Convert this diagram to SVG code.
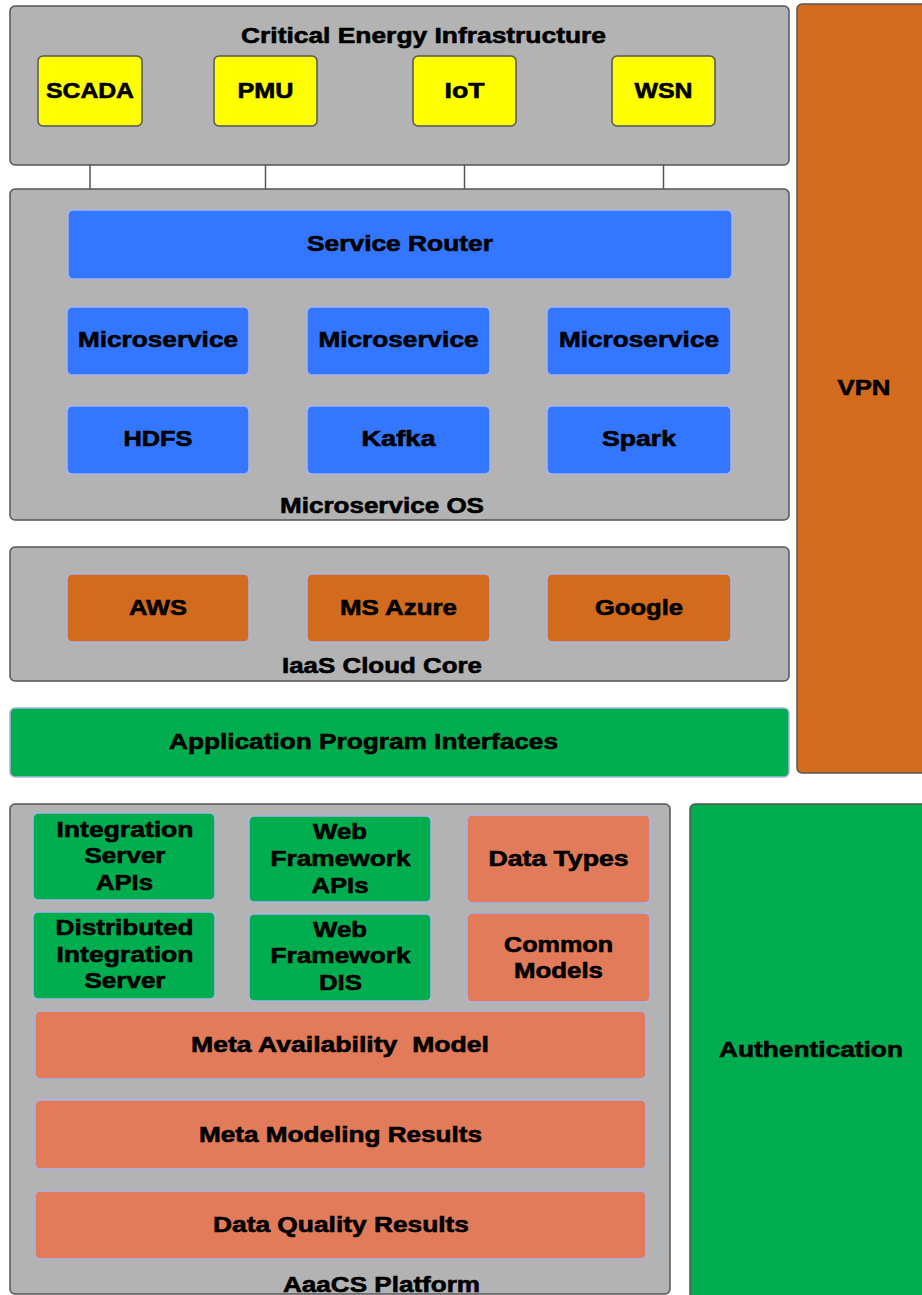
<svg xmlns="http://www.w3.org/2000/svg" width="922" height="1295" viewBox="0 0 922 1295">
<style>
text{font-family:"Liberation Sans",Arial,sans-serif;font-weight:bold;font-size:22px;fill:#000;stroke:#000;stroke-width:0.6;text-anchor:middle}
.cont{fill:#b3b3b3;stroke:#555;stroke-width:1.5}
.yel{fill:#ffff00;stroke:#555;stroke-width:1.5}
.blue{fill:#3376ff;stroke:#aab4e6;stroke-width:1.5}
.org{fill:#d26b1d;stroke:#aab4e6;stroke-width:1.5}
.grn{fill:#00ad4f;stroke:#aab4e6;stroke-width:1.5}
.sal{fill:#e27b59;stroke:#aab4e6;stroke-width:1.5}
.side{stroke:#555;stroke-width:1.5}
.conn{stroke:#555;stroke-width:1.5;fill:none}
</style>
<rect width="922" height="1295" fill="#fff"/>
<g id="vpn"><rect class="side" x="797" y="4" width="135" height="769" rx="5" fill="#d26b1d"/><text x="864" y="395" textLength="53" lengthAdjust="spacingAndGlyphs">VPN</text></g>
<g id="authentication"><rect class="side" x="690" y="804" width="243" height="500" rx="5" fill="#00ad4f"/><text x="811" y="1057" textLength="184" lengthAdjust="spacingAndGlyphs">Authentication</text></g>
<g id="connectors">
<line class="conn" x1="90" y1="126" x2="90" y2="189"/>
<line class="conn" x1="265.5" y1="126" x2="265.5" y2="189"/>
<line class="conn" x1="464.5" y1="126" x2="464.5" y2="189"/>
<line class="conn" x1="663.5" y1="126" x2="663.5" y2="189"/>
</g>
<g id="cei"><rect class="cont" x="10" y="6" width="779" height="159" rx="5"/><text x="423.5" y="43" textLength="365" lengthAdjust="spacingAndGlyphs">Critical Energy Infrastructure</text></g>
<g id="scada"><rect class="yel" x="38" y="56" width="104" height="70" rx="5"/><text x="90" y="98" textLength="88" lengthAdjust="spacingAndGlyphs">SCADA</text></g>
<g id="pmu"><rect class="yel" x="214" y="56" width="103" height="70" rx="5"/><text x="265.5" y="98" textLength="56" lengthAdjust="spacingAndGlyphs">PMU</text></g>
<g id="iot"><rect class="yel" x="413" y="56" width="103" height="70" rx="5"/><text x="464.5" y="98" textLength="40" lengthAdjust="spacingAndGlyphs">IoT</text></g>
<g id="wsn"><rect class="yel" x="612" y="56" width="103" height="70" rx="5"/><text x="663.5" y="98" textLength="58" lengthAdjust="spacingAndGlyphs">WSN</text></g>
<g id="msos"><rect class="cont" x="10" y="189" width="779" height="331" rx="5"/><text x="382" y="513" textLength="204" lengthAdjust="spacingAndGlyphs">Microservice OS</text></g>
<g id="router"><rect class="blue" x="68" y="210" width="664" height="69" rx="5"/><text x="400" y="251" textLength="186" lengthAdjust="spacingAndGlyphs">Service Router</text></g>
<g id="ms1"><rect class="blue" x="67" y="307" width="182" height="68" rx="5"/><text x="158" y="347" textLength="160" lengthAdjust="spacingAndGlyphs">Microservice</text></g>
<g id="ms2"><rect class="blue" x="307" y="307" width="183" height="68" rx="5"/><text x="398.5" y="347" textLength="160" lengthAdjust="spacingAndGlyphs">Microservice</text></g>
<g id="ms3"><rect class="blue" x="547" y="307" width="184" height="68" rx="5"/><text x="639" y="347" textLength="160" lengthAdjust="spacingAndGlyphs">Microservice</text></g>
<g id="hdfs"><rect class="blue" x="67" y="406" width="182" height="68" rx="5"/><text x="158" y="446" textLength="69" lengthAdjust="spacingAndGlyphs">HDFS</text></g>
<g id="kafka"><rect class="blue" x="307" y="406" width="183" height="68" rx="5"/><text x="398.5" y="446" textLength="74" lengthAdjust="spacingAndGlyphs">Kafka</text></g>
<g id="spark"><rect class="blue" x="547" y="406" width="184" height="68" rx="5"/><text x="639" y="446" textLength="74" lengthAdjust="spacingAndGlyphs">Spark</text></g>
<g id="iaas"><rect class="cont" x="10" y="547" width="779" height="134" rx="5"/><text x="382" y="673" textLength="200" lengthAdjust="spacingAndGlyphs">IaaS Cloud Core</text></g>
<g id="aws"><rect class="org" x="67" y="574" width="182" height="68" rx="5"/><text x="158" y="615" textLength="58" lengthAdjust="spacingAndGlyphs">AWS</text></g>
<g id="azure"><rect class="org" x="307" y="574" width="183" height="68" rx="5"/><text x="398.5" y="615" textLength="117" lengthAdjust="spacingAndGlyphs">MS Azure</text></g>
<g id="google"><rect class="org" x="547" y="574" width="184" height="68" rx="5"/><text x="639" y="615" textLength="88" lengthAdjust="spacingAndGlyphs">Google</text></g>
<g id="api"><rect class="grn" x="10" y="708" width="779" height="69" rx="5"/><text x="363.5" y="749" textLength="389" lengthAdjust="spacingAndGlyphs">Application Program Interfaces</text></g>
<g id="aaacs"><rect class="cont" x="10" y="804" width="660" height="490" rx="5"/><text x="381.5" y="1292" textLength="197" lengthAdjust="spacingAndGlyphs">AaaCS Platform</text></g>
<g id="isapi"><rect class="grn" x="33" y="813" width="182" height="87" rx="5"/><text x="125" y="837" textLength="137" lengthAdjust="spacingAndGlyphs">Integration</text><text x="125" y="863" textLength="81" lengthAdjust="spacingAndGlyphs">Server</text><text x="124.5" y="890" textLength="57" lengthAdjust="spacingAndGlyphs">APIs</text></g>
<g id="wfapi"><rect class="grn" x="249" y="816" width="182" height="86" rx="5"/><text x="340" y="839" textLength="54" lengthAdjust="spacingAndGlyphs">Web</text><text x="340.5" y="866" textLength="140" lengthAdjust="spacingAndGlyphs">Framework</text><text x="340" y="893" textLength="57" lengthAdjust="spacingAndGlyphs">APIs</text></g>
<g id="datatypes"><rect class="sal" x="467" y="815" width="183" height="88" rx="5"/><text x="558.5" y="866" textLength="140" lengthAdjust="spacingAndGlyphs">Data Types</text></g>
<g id="dis"><rect class="grn" x="33" y="912" width="182" height="87" rx="5"/><text x="124.5" y="935" textLength="138" lengthAdjust="spacingAndGlyphs">Distributed</text><text x="125" y="962" textLength="137" lengthAdjust="spacingAndGlyphs">Integration</text><text x="125" y="988" textLength="81" lengthAdjust="spacingAndGlyphs">Server</text></g>
<g id="wfdis"><rect class="grn" x="249" y="914" width="182" height="87" rx="5"/><text x="340" y="937" textLength="54" lengthAdjust="spacingAndGlyphs">Web</text><text x="340.5" y="963" textLength="140" lengthAdjust="spacingAndGlyphs">Framework</text><text x="340.5" y="990" textLength="43" lengthAdjust="spacingAndGlyphs">DIS</text></g>
<g id="common"><rect class="sal" x="467" y="913" width="183" height="89" rx="5"/><text x="558.5" y="952" textLength="109" lengthAdjust="spacingAndGlyphs">Common</text><text x="558.5" y="978" textLength="89" lengthAdjust="spacingAndGlyphs">Models</text></g>
<g id="mam"><rect class="sal" x="35" y="1011" width="611" height="68" rx="5"/><text x="340" y="1052" textLength="298" lengthAdjust="spacingAndGlyphs" xml:space="preserve">Meta Availability  Model</text></g>
<g id="mmr"><rect class="sal" x="35" y="1100" width="611" height="69" rx="5"/><text x="340.5" y="1142" textLength="283" lengthAdjust="spacingAndGlyphs">Meta Modeling Results</text></g>
<g id="dqr"><rect class="sal" x="35" y="1191" width="611" height="68" rx="5"/><text x="341" y="1232" textLength="256" lengthAdjust="spacingAndGlyphs">Data Quality Results</text></g>
</svg>
